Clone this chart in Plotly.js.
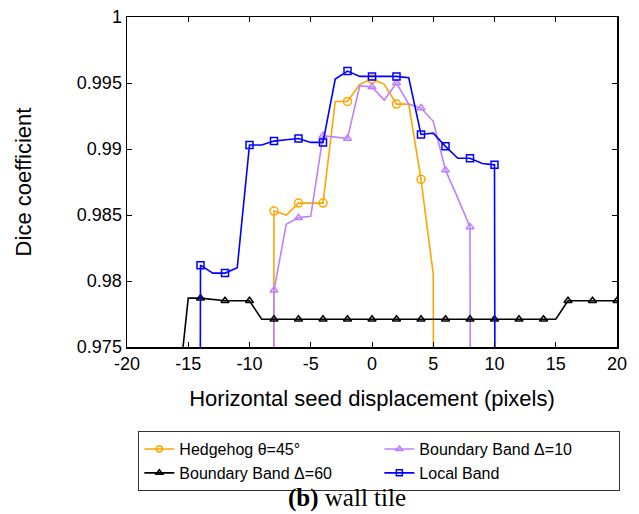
<!DOCTYPE html>
<html><head><meta charset="utf-8">
<script src="https://cdn.plot.ly/plotly-3.0.1.min.js"></script>
<style>html,body{margin:0;padding:0;background:#fff}</style>
</head><body><div id="chart" style="width:639px;height:514px"></div>
<script>
// ---- data ----
const hedgehogX = [-9,-8,-7,-6,-5,-4,-3,-2,-1,0,1,2,3,4,5,6];
const hedgehogY = [0.5,0.9853,0.9850,0.9859,0.9859,0.9859,0.9936,0.9936,0.9949,0.9953,0.9949,0.9934,0.9934,0.9877,0.9805,0.5];

const band10X = [-9,-8,-7,-6,-5,-4,-3,-2,-1,0,1,2,3,4,5,6,7,8,9];
const band10Y = [0.5,0.9793,0.9843,0.9848,0.9849,0.9910,0.9909,0.9908,0.9948,0.9947,0.9937,0.9950,0.9934,0.9931,0.9921,0.9884,0.9863,0.9841,0.5];

const band60X = [-16,-15,-14,-13,-12,-11,-10,-9,-8,-7,-6,-5,-4,-3,-2,-1,0,1,2,3,4,5,6,7,8,9,10,11,12,13,14,15,16,17,18,19,20];
const band60Y = [0.9700,0.9787,0.9787,0.9786,0.9785,0.9785,0.9785,
  0.9771,0.9771,0.9771,0.9771,0.9771,0.9771,0.9771,0.9771,0.9771,0.9771,0.9771,0.9771,0.9771,0.9771,0.9771,0.9771,0.9771,0.9771,0.9771,0.9771,0.9771,0.9771,0.9771,0.9771,0.9771,
  0.9785,0.9785,0.9785,0.9785,0.9785];

const localX = [-15,-14,-13,-12,-11,-10,-9,-8,-7,-6,-5,-4,-3,-2,-1,0,1,2,3,4,5,6,7,8,9,10,11];
const localY = [0.5,0.9812,0.9806,0.9806,0.9810,0.9903,0.9903,0.9906,0.9907,0.9908,0.9905,0.9905,0.9953,0.9959,0.9955,0.9955,0.9955,0.9955,0.9954,0.9911,0.9912,0.9902,0.9893,0.9893,0.9889,0.9888,0.5];

const seriesNames = ['Hedgehog \u03b8=45\u00b0', 'Boundary Band \u0394=10', 'Boundary Band \u0394=60', 'Local Band'];

const xTickVals = [-20,-15,-10,-5,0,5,10,15,20];
const xTickText = ['-20','-15','-10','-5','0','5','10','15','20'];
const yTickVals = [0.975,0.98,0.985,0.99,0.995,1];
const yTickText = ['0.975','0.98','0.985','0.99','0.995','1'];

// ---- styles ----
const styles = [
  {color:'#ffa500', symbol:'circle-open', size:8},
  {color:'#bf80ff', symbol:'triangle-up-open', size:7},
  {color:'#000000', symbol:'triangle-up-open', size:7},
  {color:'#0000ff', symbol:'square-open', size:7}
];
const allX = [hedgehogX, band10X, band60X, localX];
const allY = [hedgehogY, band10Y, band60Y, localY];

const traces = [];
for (let s = 0; s < 4; s++) {
  const st = styles[s];
  const xs = allX[s], ys = allY[s];
  traces.push({x: xs, y: ys, mode:'lines', type:'scatter', showlegend:false,
    line:{color:st.color, width:1.6}, hoverinfo:'skip'});
  const mx = [], my = [];
  xs.forEach((v,i) => { if (v % 2 === 0) { mx.push(v); my.push(ys[i]); } });
  traces.push({x: mx, y: my, mode:'markers', type:'scatter', showlegend:false,
    marker:{color:st.color, symbol:st.symbol, size:st.size, line:{color:st.color, width:1.5}}});
}
for (let s = 0; s < 4; s++) {
  const st = styles[s];
  traces.push({x:[null], y:[null], mode:'lines+markers', type:'scatter', name: seriesNames[s],
    line:{color:st.color, width:1.6},
    marker:{color:st.color, symbol:st.symbol, size:6, line:{color:st.color, width:1.5}}});
}

const font = 'Liberation Sans, Arial, sans-serif';
const layout = {
  width:639, height:514,
  margin:{l:127, r:22, t:17, b:167},
  paper_bgcolor:'#fff', plot_bgcolor:'#fff',
  font:{family:font, color:'#000', size:18},
  showlegend:true,
  xaxis:{range:[-20,20], tickmode:'array', tickvals:xTickVals, ticktext:xTickText,
    ticks:'inside', ticklen:5, tickwidth:1, tickcolor:'#000', showgrid:false, zeroline:false,
    showline:true, linecolor:'#000', linewidth:1.5, mirror:'ticks', automargin:false,
    tickfont:{size:18, family:font},
    title:{text:'Horizontal seed displacement (pixels)', font:{size:22, family:font}, standoff:17}},
  yaxis:{range:[0.975,1], tickmode:'array', tickvals:yTickVals, ticktext:yTickText,
    ticks:'inside', ticklen:5, tickwidth:1, tickcolor:'#000', showgrid:false, zeroline:false,
    showline:true, linecolor:'#000', linewidth:1.5, mirror:'ticks', automargin:false,
    tickfont:{size:18, family:font},
    title:{text:'Dice coefficient', font:{size:22, family:font}, standoff:39}},
  legend:{orientation:'h', x:0.515, xanchor:'center', y:-0.255, yanchor:'top',
    bordercolor:'#333', borderwidth:1, bgcolor:'#fff',
    font:{size:16, family:font}, entrywidth:195, traceorder:'normal'},
  annotations:[{xref:'paper', yref:'paper', x:0.449, y:-0.4576, xanchor:'center', yanchor:'middle',
    showarrow:false, text:'<b>(b)</b> wall tile',
    font:{family:'Liberation Serif, DejaVu Serif, serif', size:25, color:'#000'}}]
};

Plotly.newPlot('chart', traces, layout, {displayModeBar:false, staticPlot:true});
</script>
</body></html>
